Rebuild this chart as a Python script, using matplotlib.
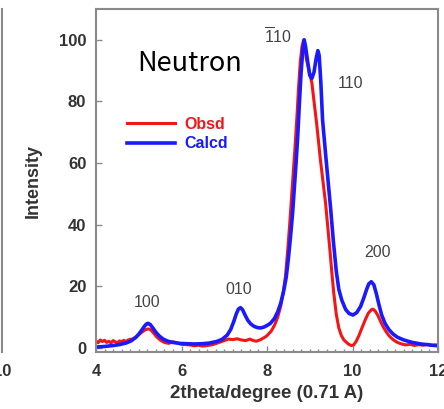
import matplotlib.pyplot as plt
from matplotlib.ticker import MultipleLocator

plt.rcParams['mathtext.fontset'] = 'custom'
plt.rcParams['mathtext.rm'] = 'Liberation Sans'

obs_x = [4.00, 4.05, 4.10, 4.15, 4.20, 4.25, 4.30, 4.35, 4.40, 4.45,
         4.50, 4.55, 4.60, 4.65, 4.70, 4.75, 4.80, 4.85, 4.90, 4.95,
         5.00, 5.08, 5.15, 5.22, 5.28, 5.35, 5.42, 5.50, 5.60, 5.70,
         5.80, 5.90, 6.00, 6.10, 6.20, 6.30, 6.40, 6.50, 6.60, 6.70,
         6.80, 6.90, 7.00, 7.10, 7.20, 7.30, 7.40, 7.50, 7.60, 7.68,
         7.75, 7.85, 7.95, 8.00, 8.10, 8.18, 8.25, 8.32, 8.38, 8.43,
         8.48, 8.53, 8.57, 8.61, 8.65, 8.70, 8.74, 8.78, 8.82, 8.86,
         8.92, 9.00, 9.05, 9.10, 9.16, 9.25, 9.31, 9.37, 9.43, 9.47,
         9.52, 9.56, 9.62, 9.68, 9.74, 9.80, 9.90, 9.97, 10.02, 10.08,
         10.15, 10.22, 10.30, 10.37, 10.44, 10.48, 10.53, 10.60, 10.66, 10.72,
         10.80, 10.88, 10.96, 11.05, 11.15, 11.25, 11.35, 11.45, 11.55, 11.65,
         11.75, 11.85, 11.95, 12.00]
obs_y = [2.3, 1.7, 2.6, 2.1, 2.5, 1.8, 2.2, 1.6, 2.4, 2.0,
         1.7, 2.3, 2.0, 2.5, 2.0, 2.6, 2.8, 2.9, 3.3, 3.6,
         4.3, 5.2, 5.9, 6.2, 5.9, 4.8, 3.6, 2.6, 1.8, 1.5,
         2.0, 1.7, 1.2, 1.1, 1.0, 0.7, 0.9, 0.6, 0.8, 1.0,
         1.4, 1.9, 2.4, 2.9, 2.7, 3.0, 2.6, 2.4, 2.9, 2.4,
         2.2, 2.7, 3.5, 4.0, 5.5, 7.5, 10.0, 13.5, 18.0, 23.0,
         31.0, 40.0, 48.0, 56.0, 64.0, 75.0, 85.0, 93.0, 98.0, 100.0,
         94.0, 89.0, 86.0, 80.0, 73.0, 61.0, 54.0, 47.0, 38.0, 32.0,
         24.0, 18.0, 11.0, 6.5, 4.0, 2.6, 1.3, 0.8, 0.9, 2.0,
         4.0, 6.5, 9.2, 11.3, 12.4, 12.6, 12.0, 10.4, 8.5, 6.8,
         5.0, 3.6, 2.6, 1.8, 1.3, 1.0, 1.2, 0.8, 1.1, 0.9,
         1.2, 0.8, 1.0, 0.9]

# Calculated pattern
calc_x = [4.00, 4.20, 4.40, 4.55, 4.70, 4.82, 4.92, 5.00, 5.07, 5.13,
          5.18, 5.22, 5.27, 5.33, 5.40, 5.48, 5.57, 5.68, 5.80, 5.95,
          6.10, 6.30, 6.50, 6.65, 6.75, 6.82, 6.95, 7.07, 7.15, 7.22,
          7.28, 7.33, 7.38, 7.43, 7.49, 7.55, 7.62, 7.70, 7.78, 7.85,
          7.93, 8.00, 8.08, 8.17, 8.25, 8.32, 8.39, 8.45, 8.50, 8.55,
          8.60, 8.64, 8.68, 8.72, 8.76, 8.80, 8.84, 8.87, 8.90, 8.95,
          9.00, 9.05, 9.10, 9.15, 9.19, 9.22, 9.26, 9.30, 9.37, 9.43,
          9.49, 9.55, 9.62, 9.68, 9.75, 9.84, 9.92, 10.01, 10.10, 10.19,
          10.27, 10.33, 10.38, 10.44, 10.50, 10.56, 10.62, 10.68, 10.76, 10.85,
          10.95, 11.05, 11.20, 11.40, 11.60, 11.80, 12.00]
calc_y = [0.3, 0.5, 0.8, 1.1, 1.6, 2.3, 3.3, 4.5, 5.8, 7.0,
          7.8, 8.0, 7.6, 6.5, 5.1, 3.9, 2.9, 2.2, 1.8, 1.5,
          1.4, 1.3, 1.4, 1.6, 1.9, 2.1, 2.8, 4.2, 6.0, 8.5,
          11.0, 12.6, 13.1, 12.4, 10.6, 9.0, 7.8, 7.0, 6.6, 6.5,
          6.8, 7.3, 8.0, 9.5, 11.7, 14.5, 18.5, 23.0, 29.0, 36.0,
          44.0, 52.0, 60.0, 69.0, 80.0, 90.0, 97.0, 100.0, 98.0, 93.0,
          88.5, 87.5, 89.5, 94.0, 96.5, 95.0, 86.0, 74.0, 63.0, 54.0,
          45.0, 35.0, 25.0, 19.0, 15.5, 12.5, 11.2, 10.7, 11.5, 13.5,
          16.5, 19.0, 20.8, 21.5, 20.5, 17.5, 14.0, 10.8, 8.0, 6.0,
          4.5, 3.5, 2.6, 1.8, 1.3, 1.0, 0.7]

peak_labels = ['100', '010', r'$\overline{1}$10', '110', '200']
peak_pos = [(5.20, 13.4), (7.33, 17.6), (8.26, 98.7), (9.96, 84.4), (10.59, 29.6)]

fig = plt.figure(figsize=(4.44, 4.09), dpi=100)

# neighbouring panel cut off at the left edge
ax0 = fig.add_axes([-0.6, 57 / 409, 0.6 + 2 / 444, 343 / 409])
ax0.set_xlim(0, 10)
ax0.set_ylim(-1.3, 110)
ax0.set_xticks([10])
ax0.set_yticks([])
ax0.tick_params(axis='x', length=0, pad=9, labelsize=12, labelcolor='#333333')
for lab in ax0.get_xticklabels():
    lab.set_fontweight('bold')
    lab.set_family('Liberation Sans')
for s in ax0.spines.values():
    s.set_visible(False)
ax0.spines['right'].set_visible(True)
ax0.spines['right'].set_color('#8a8a8a')
ax0.spines['right'].set_linewidth(1.5)

ax = fig.add_axes([96 / 444, 57 / 409, 342 / 444, 343 / 409])
ax.plot(obs_x, obs_y, color='#f21616', lw=2.2, label='Obsd')
ax.plot(calc_x, calc_y, color='#1a1aff', lw=2.6, label='Calcd')

ax.set_xlim(4, 12)
ax.set_ylim(-1.3, 110)
ax.xaxis.set_major_locator(MultipleLocator(2))
ax.xaxis.set_minor_locator(MultipleLocator(0.2))
ax.yaxis.set_major_locator(MultipleLocator(20))
ax.tick_params(axis='both', which='major', direction='in', length=4, width=1,
               color='#8a8a8a', labelsize=12, labelcolor='#333333')
ax.tick_params(axis='x', which='minor', direction='in', length=2.5, width=1, color='#8a8a8a')
ax.tick_params(axis='x', pad=9)
ax.tick_params(axis='y', pad=7)
for lab in ax.get_xticklabels() + ax.get_yticklabels():
    lab.set_fontweight('bold')
    lab.set_family('Liberation Sans')
for s in ax.spines.values():
    s.set_color('#8a8a8a')
    s.set_linewidth(1.5)

ax.set_xlabel('2theta/degree (0.71 A)', fontsize=13.5, fontweight='bold',
              family='Liberation Sans', color='#333333', labelpad=4)
ax.set_ylabel('Intensity', fontsize=13, fontweight='bold',
              family='Liberation Sans', color='#333333', labelpad=12)

for lab, (px, py) in zip(peak_labels, peak_pos):
    ax.text(px, py, lab, ha='center', va='baseline', fontsize=11.5,
            family='Liberation Sans', color='#444444')

ax.text(0.275, 0.84, 'Neutron', transform=ax.transAxes, ha='center', va='center',
        fontsize=19.5, family=['Noto Sans CJK JP', 'DejaVu Sans'], color='black')

leg = ax.legend(loc='upper left', bbox_to_anchor=(0.072, 0.705), frameon=False,
                handlelength=3.0, handletextpad=0.6, labelspacing=0.3,
                prop={'family': 'Liberation Sans', 'weight': 'bold', 'size': 11.5},
                labelcolor='linecolor', borderaxespad=0)

fig.savefig('out.png', dpi=100)
